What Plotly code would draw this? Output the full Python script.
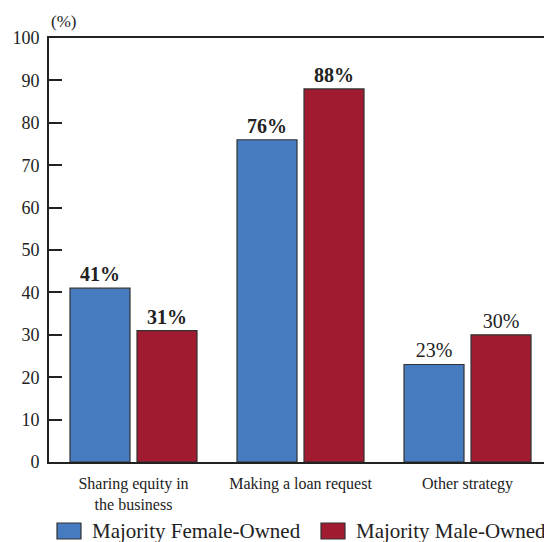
import plotly.graph_objects as go

# Strategies used to fund the business, share of respondents (%)
categories = ["Sharing equity in<br>the business", "Making a loan request", "Other strategy"]
female_owned = [41, 76, 23]
male_owned = [31, 88, 30]
series_names = ["Majority Female-Owned", "Majority Male-Owned"]
bold_labels = [True, True, False]

BLUE = "#467BBF"
RED = "#A01B30"
INK = "#222222"
FONT = "Liberation Serif"

W, H = 544, 542
M_L, M_R, M_T, M_B = 49, 0, 38, 80


def px_x(p):
    return (p - M_L) / (W - M_L - M_R)


def px_y(p):
    return (H - M_B - p) / (H - M_T - M_B)


def value_text(values):
    return [f"<b>{v}%</b>" if b else f"{v}%" for v, b in zip(values, bold_labels)]


fig = go.Figure()
for name, vals, color in [(series_names[0], female_owned, BLUE),
                          (series_names[1], male_owned, RED)]:
    fig.add_trace(go.Bar(
        x=categories, y=vals, name=name,
        marker=dict(color=color, line=dict(color="#333333", width=1.2)),
        text=value_text(vals), textposition="outside",
        textfont=dict(family=FONT, size=20, color=INK),
        cliponaxis=False, showlegend=False,
    ))

fig.update_layout(
    width=W, height=H,
    margin=dict(l=M_L, r=M_R, t=M_T, b=M_B),
    paper_bgcolor="white", plot_bgcolor="white",
    barmode="group", bargap=0.1976, bargroupgap=0.1045,
    font=dict(family=FONT, color=INK),
    xaxis=dict(
        range=[-0.506, 2.458], showline=True, linewidth=2, linecolor=INK,
        mirror=True, ticks="", showgrid=False,
        tickfont=dict(family=FONT, size=16, color=INK), ticklabelstandoff=6,
    ),
    yaxis=dict(
        range=[0, 100], dtick=10, showline=True, linewidth=2, linecolor=INK,
        ticks="inside", ticklen=13, tickwidth=2, tickcolor=INK, showgrid=False,
        zeroline=False, tickfont=dict(family=FONT, size=18, color=INK),
        ticklabelstandoff=4,
    ),
)

# Axis unit
fig.add_annotation(text="(%)", xref="paper", yref="paper", x=px_x(63), y=px_y(21),
                   showarrow=False, font=dict(family=FONT, size=17, color=INK),
                   xanchor="center", yanchor="middle")

# Legend drawn below the axis
for (x0, x1, tx), color, name in zip([(57, 81, 90), (321, 345, 354)], [BLUE, RED], series_names):
    fig.add_shape(type="rect", xref="paper", yref="paper",
                  x0=px_x(x0), x1=px_x(x1), y0=px_y(539), y1=px_y(523),
                  fillcolor=color, line=dict(color="#333333", width=1.2))
    fig.add_annotation(text=name, xref="paper", yref="paper", x=px_x(tx), y=px_y(531),
                       showarrow=False, xanchor="left", yanchor="middle",
                       font=dict(family=FONT, size=21, color=INK))

fig.write_html("out.html")
